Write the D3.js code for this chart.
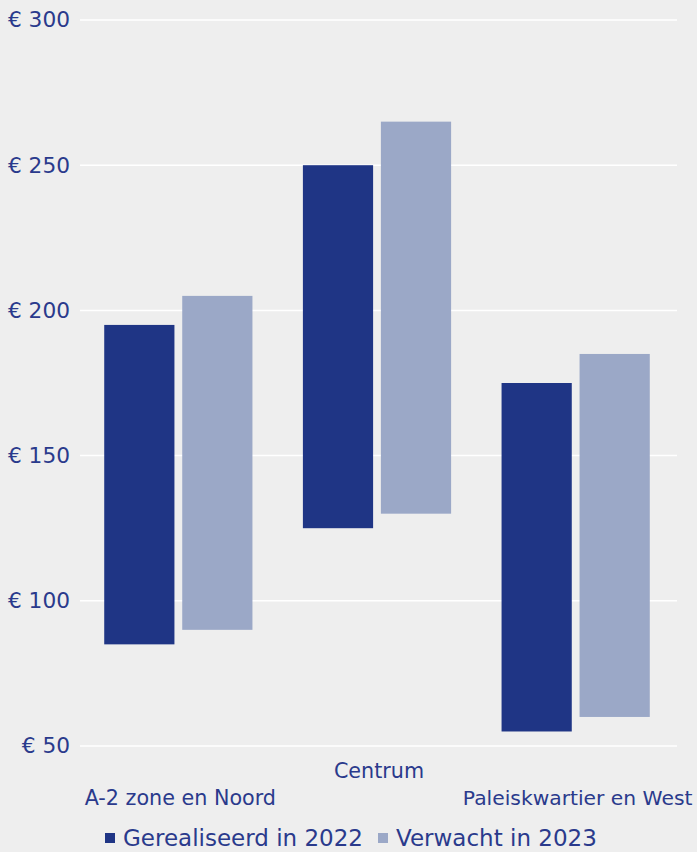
<!DOCTYPE html>
<html>
<head>
<meta charset="utf-8">
<script src="https://cdn.jsdelivr.net/npm/d3@7"></script>
<style>
  html, body { margin: 0; padding: 0; background: #eeeeee; }
  svg { display: block; }
  text { font-family: "DejaVu Sans", sans-serif; fill: #2a3a8c; }
</style>
</head>
<body>
<svg id="chart" width="697" height="852"></svg>
<script>
// Price ranges per area (min–max, euro)
const categories = ["A-2 zone en Noord", "Centrum", "Paleiskwartier en West"];
const seriesNames = ["Gerealiseerd in 2022", "Verwacht in 2023"];
const low2022  = [85, 125, 55];
const high2022 = [195, 250, 175];
const low2023  = [90, 130, 60];
const high2023 = [205, 265, 185];
const yTicks = [50, 100, 150, 200, 250, 300];
const colors = ["#1f3585", "#9ba8c7"];

const svg = d3.select("#chart");

const y = d3.scaleLinear().domain([50, 300]).range([746, 20]);
const x0 = d3.scaleBand().domain(categories).range([79, 675])
  .paddingInner(0.254).paddingOuter(0.127);
const x1 = d3.scaleBand().domain(seriesNames).range([0, x0.bandwidth()]).paddingInner(0.1);

// Grid lines
svg.append("g").selectAll("line").data(yTicks).join("line")
  .attr("x1", 80).attr("x2", 677)
  .attr("y1", d => y(d)).attr("y2", d => y(d))
  .attr("stroke", "#ffffff").attr("stroke-width", 1.5);

// Y-axis labels
const yAxis = d3.axisLeft(y).tickValues(yTicks).tickSize(0).tickPadding(0)
  .tickFormat(d => "€ " + d);
svg.append("g").attr("transform", "translate(70,0)").call(yAxis)
  .call(g => g.select(".domain").remove())
  .call(g => g.selectAll("text")
    .attr("font-size", 21.7).attr("fill", "#2a3a8c")
    .attr("font-family", "DejaVu Sans, sans-serif"));

// Range bars
const rows = categories.map((c, i) => [
  { cat: c, s: seriesNames[0], lo: low2022[i], hi: high2022[i], k: 0 },
  { cat: c, s: seriesNames[1], lo: low2023[i], hi: high2023[i], k: 1 }
]).flat();

svg.append("g").selectAll("rect").data(rows).join("rect")
  .attr("x", d => x0(d.cat) + x1(d.s))
  .attr("width", x1.bandwidth())
  .attr("y", d => y(d.hi))
  .attr("height", d => y(d.lo) - y(d.hi))
  .attr("fill", d => colors[d.k]);

// Category labels (staggered)
svg.append("g").selectAll("text").data(categories).join("text")
  .attr("x", (d, i) => x0(d) + x0.bandwidth() / 2 + 2)
  .attr("y", (d, i) => i % 2 === 1 ? 778 : 805)
  .attr("text-anchor", "middle")
  .attr("font-size", (d, i) => i === 2 ? 20.3 : 20.7)
  .text(d => d);

// Legend
const legendX = [105, 378];
const lg = svg.append("g").selectAll("g").data(seriesNames).join("g")
  .attr("transform", (d, i) => `translate(${legendX[i]},0)`);
lg.append("rect").attr("x", 0).attr("y", 833).attr("width", 10).attr("height", 10)
  .attr("fill", (d, i) => colors[i]);
lg.append("text").attr("x", 18).attr("y", 846).attr("font-size", 23).text(d => d);
</script>
</body>
</html>
